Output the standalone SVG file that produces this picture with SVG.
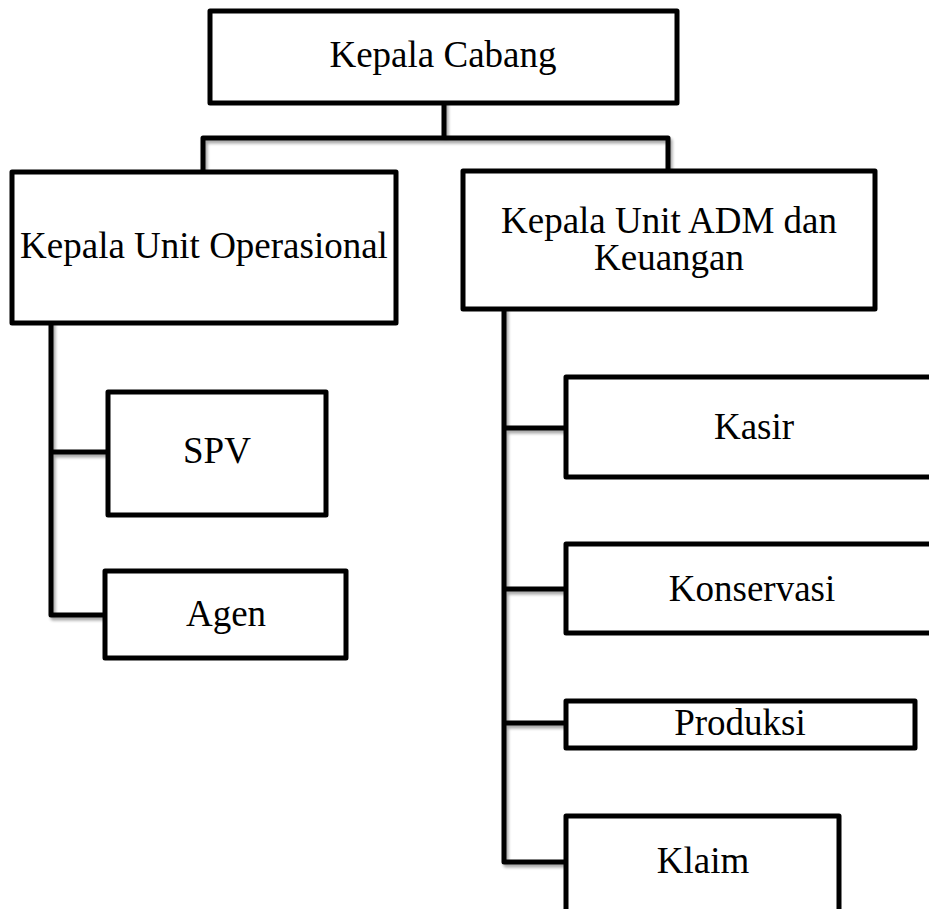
<svg xmlns="http://www.w3.org/2000/svg" width="929" height="909" viewBox="0 0 929 909">
<style>
.box{fill:#fff;stroke:#000;stroke-width:5;stroke-linejoin:round}
.lbl{font-family:"Liberation Serif","Times New Roman",serif;font-size:37px;fill:#000;text-anchor:middle}
.con{fill:none;stroke:#000;stroke-width:5;stroke-linejoin:round;stroke-linecap:square}
</style>
<defs>
<filter id="sh" x="-5%" y="-5%" width="110%" height="110%">
<feGaussianBlur in="SourceAlpha" stdDeviation="1.5"/>
<feOffset dx="1.5" dy="2.5" result="b"/>
<feComponentTransfer><feFuncA type="linear" slope="0.35"/></feComponentTransfer>
<feMerge><feMergeNode/><feMergeNode in="SourceGraphic"/></feMerge>
</filter>
</defs>
<rect width="929" height="909" fill="#fff"/>
<g id="connectors" filter="url(#sh)">
<path class="con" d="M444 103 V138 M203 172 V138 H668 V171"/>
<path class="con" d="M51 323 V615 H105 M51 452 H108"/>
<path class="con" d="M504 309 V862 H566 M504 428 H566 M504 589 H566 M504 723 H566"/>
</g>
<g id="kepala-cabang"><rect class="box" x="210" y="11" width="467" height="92"/><text class="lbl" x="443" y="67">Kepala Cabang</text></g>
<g id="kepala-unit-operasional"><rect class="box" x="12" y="172" width="384" height="151"/><text class="lbl" x="204" y="258">Kepala Unit Operasional</text></g>
<g id="kepala-unit-adm"><rect class="box" x="463" y="171" width="412" height="138"/><text class="lbl" x="669" y="233">Kepala Unit ADM dan</text><text class="lbl" x="669" y="270">Keuangan</text></g>
<g id="spv"><rect class="box" x="108" y="392" width="218" height="123"/><text class="lbl" x="217" y="463">SPV</text></g>
<g id="agen"><rect class="box" x="105" y="571" width="241" height="87"/><text class="lbl" x="226" y="626">Agen</text></g>
<g id="kasir"><rect class="box" x="566" y="377" width="380" height="100"/><text class="lbl" x="754" y="439">Kasir</text></g>
<g id="konservasi"><rect class="box" x="566" y="544" width="380" height="89"/><text class="lbl" x="752" y="601">Konservasi</text></g>
<g id="produksi"><rect class="box" x="566" y="701" width="349" height="47"/><text class="lbl" x="740" y="735">Produksi</text></g>
<g id="klaim"><rect class="box" x="566" y="816" width="273" height="110"/><text class="lbl" x="703" y="873">Klaim</text></g>
</svg>
